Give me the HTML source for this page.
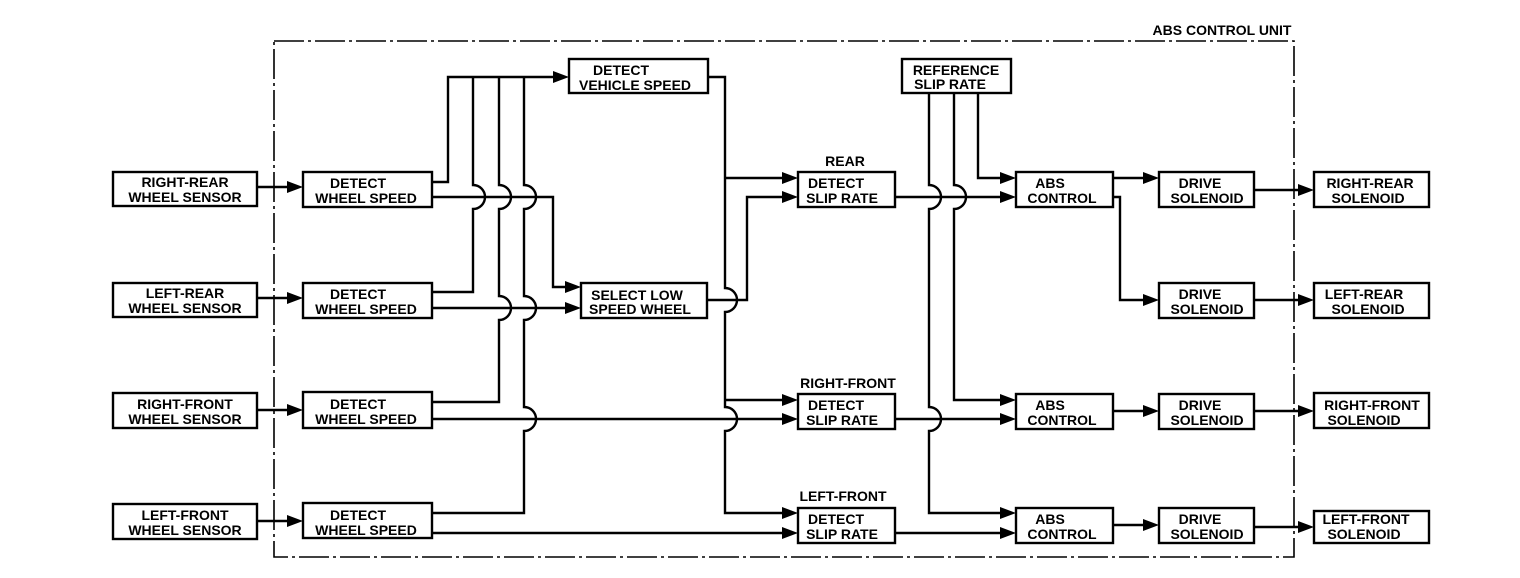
<!DOCTYPE html>
<html><head><meta charset="utf-8"><style>
html,body{margin:0;padding:0;background:#fff;}
svg{display:block;}
text{font-family:"Liberation Sans",sans-serif;font-weight:bold;font-size:14px;fill:#000;}
</style></head><body>
<svg width="1520" height="578" viewBox="0 0 1520 578" xmlns="http://www.w3.org/2000/svg">
<g fill="none" stroke="#000" stroke-width="2.4">
<rect x="274" y="41" width="1020" height="516" stroke-width="1.6" stroke-dasharray="30 4 3 4"/>
<rect x="113" y="172" width="144" height="34"/>
<rect x="113" y="283" width="144" height="34"/>
<rect x="113" y="393" width="144" height="35"/>
<rect x="113" y="504" width="144" height="35"/>
<rect x="303" y="172" width="129" height="35"/>
<rect x="303" y="283" width="129" height="35"/>
<rect x="303" y="392" width="129" height="36"/>
<rect x="303" y="503" width="129" height="35"/>
<rect x="569" y="59" width="139" height="34"/>
<rect x="581" y="283" width="126" height="35"/>
<rect x="902" y="59" width="109" height="34"/>
<rect x="798" y="172" width="97" height="35"/>
<rect x="798" y="394" width="97" height="35"/>
<rect x="798" y="508" width="97" height="35"/>
<rect x="1016" y="172" width="97" height="35"/>
<rect x="1016" y="394" width="97" height="35"/>
<rect x="1016" y="508" width="97" height="35"/>
<rect x="1159" y="172" width="95" height="35"/>
<rect x="1159" y="283" width="95" height="35"/>
<rect x="1159" y="394" width="95" height="35"/>
<rect x="1159" y="508" width="95" height="35"/>
<rect x="1314" y="172" width="115" height="35"/>
<rect x="1314" y="283" width="115" height="35"/>
<rect x="1314" y="393" width="115" height="35"/>
<rect x="1314" y="511" width="115" height="32"/>

<path d="M432 182 H448 V77 H556"/>
<path d="M432 292 H473 V209 A12 12 0 0 0 473 185 V77"/>
<path d="M432 402 H499 V320 A12 12 0 0 0 499 296 V209 A12 12 0 0 0 499 185 V77"/>
<path d="M432 513 H524 V431 A12 12 0 0 0 524 407 V320 A12 12 0 0 0 524 296 V209 A12 12 0 0 0 524 185 V77"/>
<path d="M708 77 H725 V288 A12 12 0 0 1 725 312 V407 A12 12 0 0 1 725 431 V513 H784"/>
<path d="M725 178 H784"/>
<path d="M725 400 H784"/>
<path d="M929 93 V185 A12 12 0 0 1 929 209 V407 A12 12 0 0 1 929 431 V513 H1002"/>
<path d="M954 93 V185 A12 12 0 0 1 954 209 V400 H1002"/>
<path d="M978 93 V178 H1002"/>

<path d="M432 197 H553 V287 H567"/>
<path d="M432 308 H567"/>
<path d="M432 419 H784"/>
<path d="M432 533 H784"/>
<path d="M707 300 H747 V197 H784"/>
<path d="M895 197 H1002"/>
<path d="M895 419 H1002"/>
<path d="M895 533 H1002"/>
<path d="M1113 178 H1145"/>
<path d="M1113 197 H1120 V300 H1145"/>
<path d="M1113 411 H1145"/>
<path d="M1113 525 H1145"/>
<path d="M257 187 H289"/><path d="M257 298 H289"/><path d="M257 410 H289"/><path d="M257 521 H289"/>
<path d="M1254 190 H1300"/><path d="M1254 300 H1300"/><path d="M1254 411 H1300"/><path d="M1254 527 H1300"/>
</g>
<g fill="#000">
<polygon points="287,181 303,187 287,193"/><polygon points="287,292 303,298 287,304"/>
<polygon points="287,404 303,410 287,416"/><polygon points="287,515 303,521 287,527"/>
<polygon points="553,71 569,77 553,83"/>
<polygon points="565,281 581,287 565,293"/><polygon points="565,302 581,308 565,314"/>
<polygon points="782,172 798,178 782,184"/><polygon points="782,191 798,197 782,203"/>
<polygon points="782,394 798,400 782,406"/><polygon points="782,413 798,419 782,425"/>
<polygon points="782,507 798,513 782,519"/><polygon points="782,527 798,533 782,539"/>
<polygon points="1000,172 1016,178 1000,184"/><polygon points="1000,191 1016,197 1000,203"/>
<polygon points="1000,394 1016,400 1000,406"/><polygon points="1000,413 1016,419 1000,425"/>
<polygon points="1000,507 1016,513 1000,519"/><polygon points="1000,527 1016,533 1000,539"/>
<polygon points="1143,172 1159,178 1143,184"/><polygon points="1143,294 1159,300 1143,306"/>
<polygon points="1143,405 1159,411 1143,417"/><polygon points="1143,519 1159,525 1143,531"/>
<polygon points="1298,184 1314,190 1298,196"/><polygon points="1298,294 1314,300 1298,306"/>
<polygon points="1298,405 1314,411 1298,417"/><polygon points="1298,521 1314,527 1298,533"/>
</g>
<g text-anchor="middle">
<text x="185" y="187">RIGHT-REAR</text><text x="185" y="202">WHEEL SENSOR</text>
<text x="185" y="298">LEFT-REAR</text><text x="185" y="313">WHEEL SENSOR</text>
<text x="185" y="409">RIGHT-FRONT</text><text x="185" y="424">WHEEL SENSOR</text>
<text x="185" y="520">LEFT-FRONT</text><text x="185" y="535">WHEEL SENSOR</text>
<text x="358" y="188">DETECT</text><text x="366" y="203">WHEEL SPEED</text>
<text x="358" y="299">DETECT</text><text x="366" y="314">WHEEL SPEED</text>
<text x="358" y="409">DETECT</text><text x="366" y="424">WHEEL SPEED</text>
<text x="358" y="520">DETECT</text><text x="366" y="535">WHEEL SPEED</text>
<text x="621" y="75">DETECT</text><text x="635" y="90">VEHICLE SPEED</text>
<text x="637" y="300">SELECT LOW</text><text x="640" y="314">SPEED WHEEL</text>
<text x="956" y="75">REFERENCE</text><text x="950" y="89">SLIP RATE</text>
<text x="845" y="166">REAR</text>
<text x="836" y="188">DETECT</text><text x="842" y="203">SLIP RATE</text>
<text x="848" y="388">RIGHT-FRONT</text>
<text x="836" y="410">DETECT</text><text x="842" y="425">SLIP RATE</text>
<text x="843" y="501">LEFT-FRONT</text>
<text x="836" y="524">DETECT</text><text x="842" y="539">SLIP RATE</text>
<text x="1050" y="188">ABS</text><text x="1062" y="203">CONTROL</text>
<text x="1050" y="410">ABS</text><text x="1062" y="425">CONTROL</text>
<text x="1050" y="524">ABS</text><text x="1062" y="539">CONTROL</text>
<text x="1200" y="188">DRIVE</text><text x="1207" y="203">SOLENOID</text>
<text x="1200" y="299">DRIVE</text><text x="1207" y="314">SOLENOID</text>
<text x="1200" y="410">DRIVE</text><text x="1207" y="425">SOLENOID</text>
<text x="1200" y="524">DRIVE</text><text x="1207" y="539">SOLENOID</text>
<text x="1370" y="188">RIGHT-REAR</text><text x="1368" y="203">SOLENOID</text>
<text x="1364" y="299">LEFT-REAR</text><text x="1368" y="314">SOLENOID</text>
<text x="1372" y="410">RIGHT-FRONT</text><text x="1364" y="425">SOLENOID</text>
<text x="1366" y="524">LEFT-FRONT</text><text x="1364" y="539">SOLENOID</text>
<text x="1222" y="35">ABS CONTROL UNIT</text>
</g>
</svg>
</body></html>
